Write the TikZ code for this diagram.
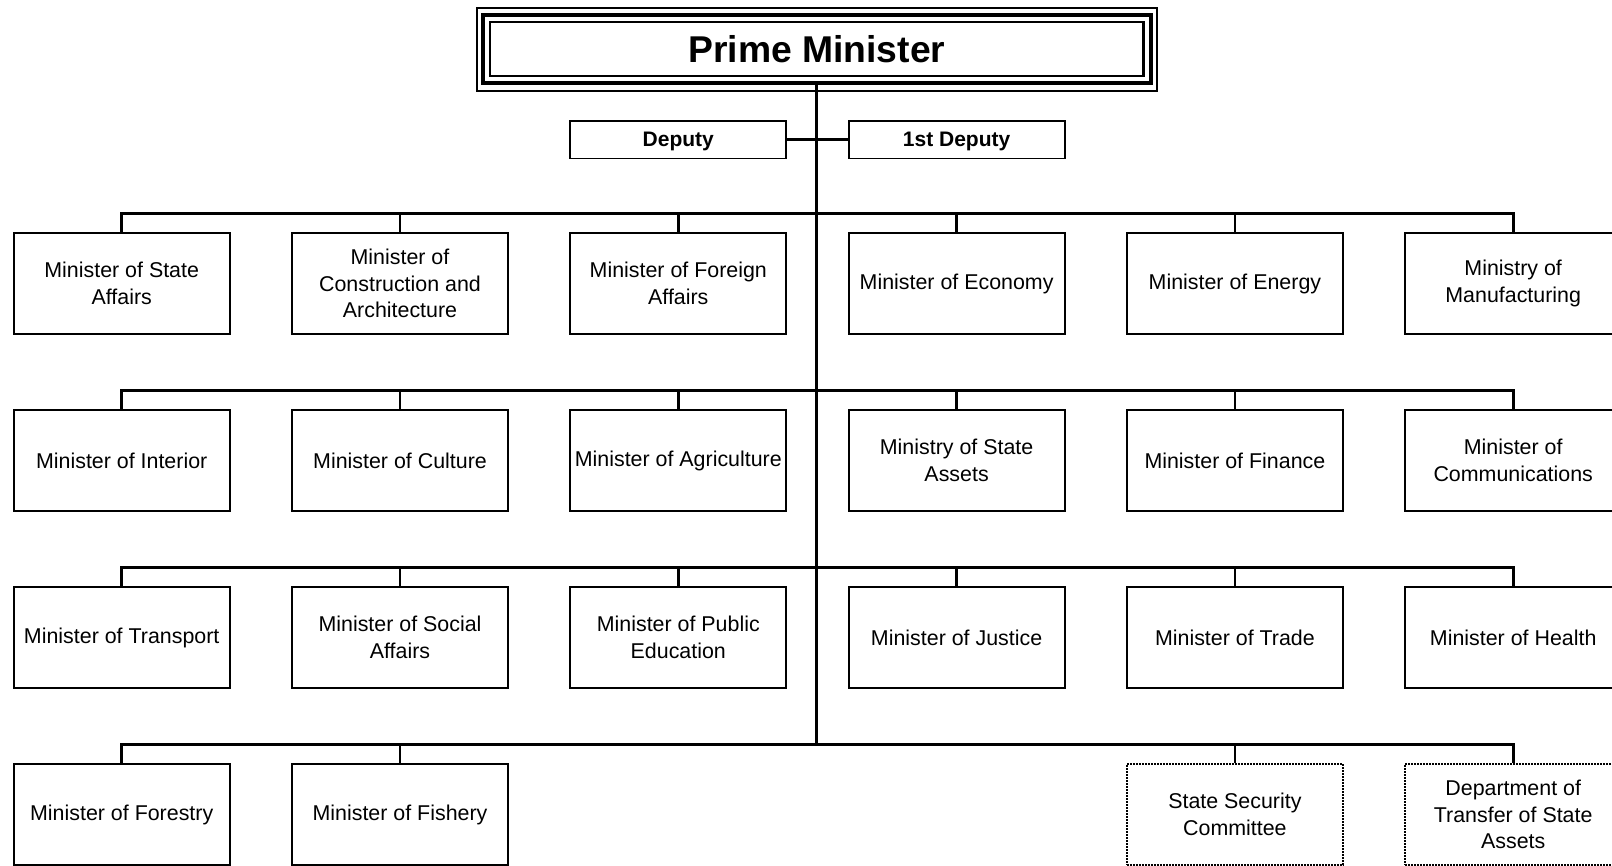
\documentclass[tikz,border=0pt]{standalone}
\usepackage{fontspec}
\setmainfont{Liberation Sans}
\usetikzlibrary{calc}
\begin{document}
\begin{tikzpicture}[x=1pt,y=-1pt,
 mbox/.style={draw, line width=1.8pt, minimum width=216pt, minimum height=101pt, inner sep=0pt, align=center, font=\fontsize{21.4}{26.7}\selectfont},
 dbox/.style={mbox, line width=2pt, dash pattern=on 2pt off 1pt},
 depbox/.style={draw, line width=1.8pt, minimum width=216pt, minimum height=37.5pt, inner sep=0pt, text depth=0pt, font=\fontsize{21}{25}\selectfont\bfseries},
 pmbox/.style={draw, line width=4pt, minimum width=668pt, minimum height=67.7pt, inner sep=0pt, font=\fontsize{37.3}{44}\selectfont\bfseries},
 bus/.style={line width=2.7pt},
 trunk/.style={line width=3.3pt},
 thinframe/.style={line width=2pt},
]
\useasboundingbox (0,0) rectangle (1612,866);

% Prime Minister
\node[pmbox] (pm) at (816.8,49.2) {Prime Minister};
\draw[thinframe] ($(pm.center)+(-340.3,-41.5)$) rectangle ($(pm.center)+(340.3,41.5)$);
\draw[line width=2.5pt] ($(pm.center)+(-326.7,-27)$) rectangle ($(pm.center)+(326.7,27)$);

% Deputies
\node[depbox] (dep) at (678.3,139.7) {Deputy};
\node[depbox] (fdep) at (956.6,139.7) {1st Deputy};

% Row 1
\node[mbox] (a1) at (121.7,283.5) {Minister of State\\Affairs};
\node[mbox] (a2) at (400.0,283.5) {Minister of\\Construction and\\Architecture};
\node[mbox] (a3) at (678.3,283.5) {Minister of Foreign\\Affairs};
\node[mbox] (a4) at (956.6,283.5) {Minister of Economy};
\node[mbox] (a5) at (1234.9,283.5) {Minister of Energy};
\node[mbox] (a6) at (1513.2,283.5) {Ministry of\\Manufacturing};

% Row 2
\node[mbox] (b1) at (121.7,460.5) {Minister of Interior};
\node[mbox] (b2) at (400.0,460.5) {Minister of Culture};
\node[mbox] (b3) at (678.3,460.5) {Minister of Agriculture};
\node[mbox] (b4) at (956.6,460.5) {Ministry of State\\Assets};
\node[mbox] (b5) at (1234.9,460.5) {Minister of Finance};
\node[mbox] (b6) at (1513.2,460.5) {Minister of\\Communications};

% Row 3
\node[mbox] (c1) at (121.7,637.5) {Minister of Transport};
\node[mbox] (c2) at (400.0,637.5) {Minister of Social\\Affairs};
\node[mbox] (c3) at (678.3,637.5) {Minister of Public\\Education};
\node[mbox] (c4) at (956.6,637.5) {Minister of Justice};
\node[mbox] (c5) at (1234.9,637.5) {Minister of Trade};
\node[mbox] (c6) at (1513.2,637.5) {Minister of Health};

% Row 4
\node[mbox] (d1) at (121.7,814.5) {Minister of Forestry};
\node[mbox] (d2) at (400.0,814.5) {Minister of Fishery};
\node[dbox] (d5) at (1234.9,814.5) {State Security\\Committee};
\node[dbox] (d6) at (1513.2,814.5) {Department of\\Transfer of State\\Assets};

% Buses
\draw[bus] (a1.north) -- ++(0,-18.5) -| (a6.north);
\foreach \n in {a2,a3,a4,a5} \draw[bus] (\n.north) -- ++(0,-18.5);
\draw[bus] (b1.north) -- ++(0,-18.5) -| (b6.north);
\foreach \n in {b2,b3,b4,b5} \draw[bus] (\n.north) -- ++(0,-18.5);
\draw[bus] (c1.north) -- ++(0,-18.5) -| (c6.north);
\foreach \n in {c2,c3,c4,c5} \draw[bus] (\n.north) -- ++(0,-18.5);
\draw[bus] (d1.north) -- ++(0,-18.5) coordinate (jn) -| (d6.north);
\foreach \n in {d2,d5} \draw[bus] (\n.north) -- ++(0,-18.5);

% Trunk
\draw[trunk] (pm.south) -- (pm.south |- jn);
\draw[line width=3pt] (dep.east) -- (fdep.west);
\end{tikzpicture}
\end{document}
